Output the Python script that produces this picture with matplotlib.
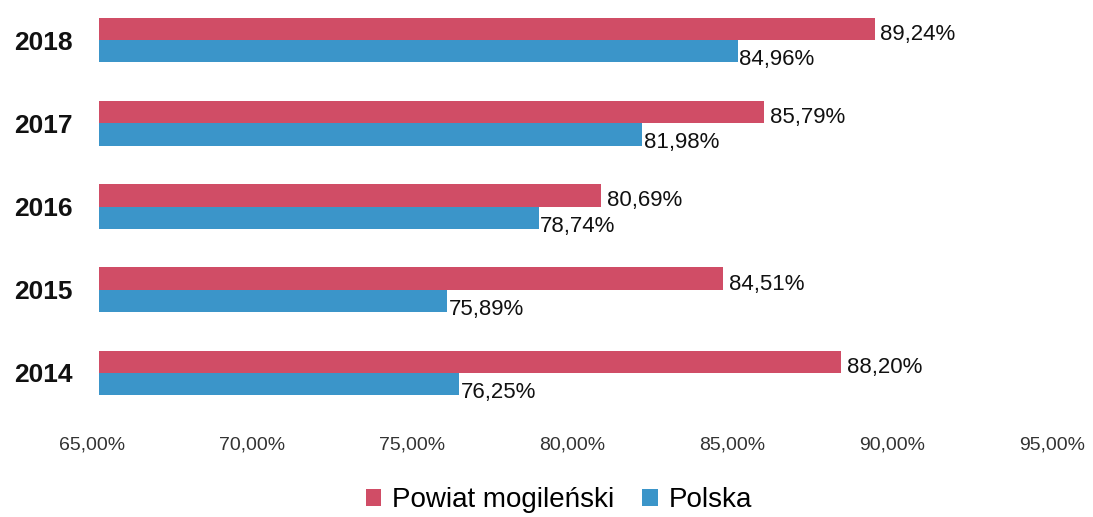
import matplotlib
matplotlib.use("Agg")
import matplotlib.pyplot as plt
import matplotlib.transforms as mtransforms
import numpy as np
from matplotlib.ticker import FuncFormatter

# ── data ──────────────────────────────────────────────────────────────────────
years = ["2014", "2015", "2016", "2017", "2018"]
powiat = [88.20, 84.51, 80.69, 85.79, 89.24]
polska = [76.25, 75.89, 78.74, 81.98, 84.96]
x_ticks = [65, 70, 75, 80, 85, 90, 95]

RED = "#d04d66"
BLUE = "#3b95c9"

plt.rcParams["font.family"] = ["Liberation Sans", "DejaVu Sans"]


def pl(v):
    return f"{v:.2f}%".replace(".", ",")


fig = plt.figure(figsize=(10.93, 5.17), dpi=100)
ax = fig.add_axes([99 / 1093, 1 - 414.6 / 517, 960 / 1093, 416.2 / 517])

y = np.arange(len(years))
h = 0.27
ax.barh(y + h / 2, [v - 65 for v in powiat], left=65, height=h, color=RED,
        label="Powiat mogileński")
ax.barh(y - h / 2, [v - 65 for v in polska], left=65, height=h, color=BLUE,
        label="Polska")

for yi, v in zip(y, powiat):
    ax.annotate(pl(v), (v, yi + h / 2), xytext=(4, -4), textcoords="offset points",
                ha="left", va="center", fontsize=16, color="#111111")
for yi, v in zip(y, polska):
    ax.annotate(pl(v), (v, yi - h / 2), xytext=(1, -6), textcoords="offset points",
                ha="left", va="center", fontsize=16, color="#111111")

ax.set_xlim(65, 95)
ax.set_ylim(-0.5, 4.5)
ax.set_xticks(x_ticks)
ax.xaxis.set_major_formatter(FuncFormatter(lambda v, _: pl(v)))
ax.set_yticks(y)
ax.set_yticklabels(years, fontsize=19, fontweight="bold", color="#111111")
ax.tick_params(axis="y", length=0, pad=19)
ax.tick_params(axis="x", length=0, pad=16, labelsize=14, labelcolor="#333333")
for side in ax.spines.values():
    side.set_visible(False)

# tick labels sit a few pixels left of their gridline positions in the original
shift = mtransforms.ScaledTranslation(-5 / 72, 0, fig.dpi_scale_trans)
for lab in ax.get_xticklabels():
    lab.set_transform(lab.get_transform() + shift)

fig.legend(loc="center", bbox_to_anchor=(559 / 1093, 1 - 500 / 517), ncol=2,
           frameon=False, handlelength=0.55, handleheight=0.55,
           handletextpad=0.4, columnspacing=1.0,
           prop={"size": 20})

fig.savefig("out.png", dpi=100)
